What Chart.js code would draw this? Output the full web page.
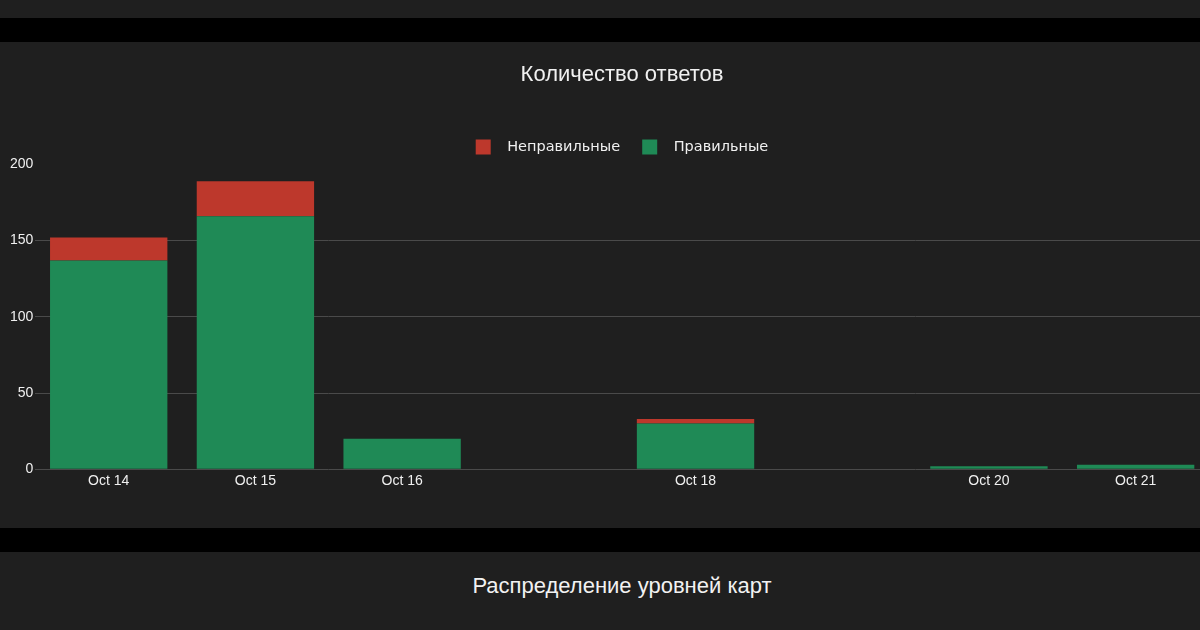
<!DOCTYPE html>
<html>
<head>
<meta charset="utf-8">
<script src="https://cdn.jsdelivr.net/npm/chart.js@4/dist/chart.umd.min.js"></script>
<style>
	html, body { margin: 0; padding: 0; background: #1f1f1f; overflow: hidden; width: 1200px; height: 630px; }
	.band { height: 24px; background: #000; width: 1244px; }
	.top { height: 18px; }
	#wrap { height: 486px; width: 1244px; }
	.next { width: 1244px; text-align: center; color: #f2f2f2; font: 22px "Liberation Sans", Arial, sans-serif; padding-top: 21px; }
</style>
</head>
<body>
<div class="top"></div>
<div class="band"></div>
<div id="wrap"><canvas id="chart" width="1244" height="486"></canvas></div>
<div class="band"></div>
<div class="next">Распределение уровней карт</div>

<script>
/*------------------------------------------------------------------------------------------------*/

const days = [14, 15, 16, 18, 20, 21];
const dayLabels = ['Oct 14', 'Oct 15', 'Oct 16', 'Oct 18', 'Oct 20', 'Oct 21'];

const correct = [137, 166, 20, 30, 2, 3];
const wrong = [15, 23, 0, 3, 0, 0];

const yTicks = [0, 50, 100, 150, 200];

/*------------------------------------------------------------------------------------------------*/

const GREEN = '#1f8a56';
const RED = '#bd382c';
const GRID = '#4a4a4a';
const TEXT = '#f0f0f0';

const toPoints = (values) => values.map((v, i) => ({x: days[i], y: v}));

new Chart(document.getElementById('chart').getContext('2d'), {
	type: 'bar',
	data: {
		datasets: [
			{label: 'Правильные', data: toPoints(correct), backgroundColor: GREEN},
			{label: 'Неправильные', data: toPoints(wrong), backgroundColor: RED},
		],
	},
	options: {
		responsive: false,
		animation: false,
		categoryPercentage: 1.0,
		barPercentage: 0.8,
		layout: {
			padding: {left: 8, right: 8, top: 13, bottom: 34},
		},
		plugins: {
			tooltip: {enabled: false},
			title: {
				display: true,
				text: 'Количество ответов',
				color: TEXT,
				font: {family: '"Liberation Sans", Arial, sans-serif', size: 22, weight: 'normal'},
				padding: {top: 7, bottom: 29},
			},
			legend: {
				display: true,
				reverse: true,
				labels: {
					color: TEXT,
					boxWidth: 15,
					boxHeight: 15,
					padding: 22,
					font: {family: '"DejaVu Sans", Verdana, sans-serif', size: 14.5},
					generateLabels: (chart) => Chart.defaults.plugins.legend.labels.generateLabels(chart).map((item) => {
						item.text = '  ' + item.text;
						item.lineWidth = 0;
						return item;
					}),
				},
			},
		},
		scales: {
			x: {
				type: 'linear',
				stacked: true,
				offset: false,
				min: 13.5,
				max: 21.5,
				grid: {display: false, drawTicks: false},
				border: {display: false},
				afterBuildTicks: (scale) => { scale.ticks = days.map((d) => ({value: d})); },
				ticks: {
					color: TEXT,
					padding: 4,
					maxRotation: 0,
					autoSkip: false,
					font: {family: '"Liberation Sans", Arial, sans-serif', size: 14},
					callback: (value) => dayLabels[days.indexOf(value)],
				},
			},
			y: {
				stacked: true,
				min: 0,
				max: 200,
				afterBuildTicks: (scale) => { scale.ticks = yTicks.map((v) => ({value: v})); },
				grid: {
					drawTicks: false,
					lineWidth: 1,
					color: (ctx) => (ctx.tick && ctx.tick.value === 200 ? 'rgba(0,0,0,0)' : GRID),
				},
				border: {display: false},
				ticks: {
					color: TEXT,
					padding: 2,
					font: {family: '"Liberation Sans", Arial, sans-serif', size: 14},
				},
			},
			// empty right margin so the title and legend centre over the plot area
			yRight: {
				position: 'right',
				grid: {display: false, drawTicks: false},
				border: {display: false},
				ticks: {display: false},
				afterFit: (scale) => { scale.width = 27; },
			},
		},
	},
});

/*------------------------------------------------------------------------------------------------*/
</script>
</body>
</html>
